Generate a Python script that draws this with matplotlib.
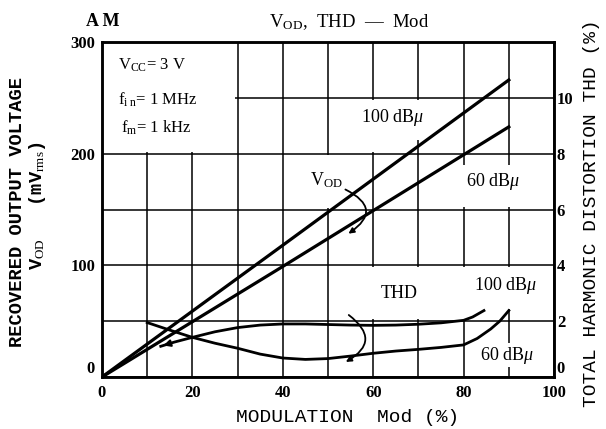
import matplotlib.pyplot as plt
from matplotlib.patches import Rectangle, FancyArrowPatch

plt.rcParams['font.family'] = 'Liberation Serif'
plt.rcParams['mathtext.fontset'] = 'custom'
plt.rcParams['mathtext.rm'] = 'Liberation Serif'
plt.rcParams['mathtext.it'] = 'Liberation Serif:italic'
plt.rcParams['mathtext.bf'] = 'Liberation Serif:bold'

# recovered output voltage (mVrms) vs modulation (%)
mod = [0, 40, 90]
vod_100 = [0, 118, 266]
vod_60 = [0, 99, 224]

# total harmonic distortion (%) vs modulation (%)
thd100_mod = [13, 16, 20, 25, 30, 35, 40, 45, 50, 55, 60, 65, 70, 75, 80, 82, 84.5]
thd100 = [1.10, 1.25, 1.42, 1.62, 1.77, 1.86, 1.90, 1.90, 1.88, 1.86, 1.85, 1.86, 1.89, 1.94, 2.03, 2.15, 2.38]
thd60_mod = [10, 15, 20, 25, 30, 35, 40, 45, 50, 55, 60, 65, 70, 75, 80, 83, 86, 88, 90]
thd60 = [1.95, 1.68, 1.42, 1.21, 1.03, 0.82, 0.68, 0.63, 0.66, 0.75, 0.85, 0.93, 0.99, 1.06, 1.15, 1.38, 1.72, 2.0, 2.38]

x_ticks = [0, 20, 40, 60, 80, 100]
vod_ticks = [0, 100, 200, 300]
thd_ticks = [0, 2, 4, 6, 8, 10]

fig = plt.figure(figsize=(6.06, 4.29), dpi=100)
ax = fig.add_axes([0.1683, 0.1212, 0.7459, 0.7809])
ax2 = ax.twinx()

ax.set_xlim(0, 100)
ax.set_ylim(0, 300)
ax2.set_ylim(0, 12)

ax.set_xticks(x_ticks)
ax.set_xticks(range(10, 100, 20), minor=True)
ax.set_yticks(vod_ticks)
ax.set_yticks([50, 150, 250], minor=True)
ax2.set_yticks(thd_ticks)
ax.set_axisbelow(True)
ax.grid(True, which='both', color='black', lw=1.1)
ax.tick_params(which='both', length=0, labelsize=12, pad=5)
ax.tick_params(axis='x', pad=6)
ax2.tick_params(length=0, labelsize=12, pad=2)
for lab in ax.get_xticklabels() + ax.get_yticklabels() + ax2.get_yticklabels():
    lab.set_fontweight('bold')
ax.get_yticklabels()[0].set_va('bottom')
ax2.get_yticklabels()[0].set_va('bottom')
for a in (ax, ax2):
    for s in a.spines.values():
        s.set_linewidth(1.8)

# blank cells of the printed grid (legend box and label areas)
blanks = [(0, 201.6, 29.5, 98.0), (59, 201.6, 2, 46.8), (55, 212, 17.3, 36.4),
          (45, 151.6, 10, 46.8), (78, 152, 21.6, 38), (55, 51.6, 32, 46.8),
          (87, 60.5, 12.6, 37.9)]
for x0, y0, w, h in blanks:
    ax.add_patch(Rectangle((x0, y0), w, h, facecolor='white', edgecolor='none', zorder=1))

ax.plot(mod, vod_100, color='black', lw=2.3)
ax.plot(mod, vod_60, color='black', lw=2.3)
ax2.plot(thd100_mod, thd100, color='black', lw=2.0)
ax2.plot(thd60_mod, thd60, color='black', lw=2.0)
ax2.annotate('', xy=(thd100_mod[0], thd100[0]), xytext=(thd100_mod[1], thd100[1]),
             arrowprops=dict(arrowstyle='-|>', color='black', lw=1.5, mutation_scale=10))

# conditions box
ax.text(3.5, 279, r'V$_{\rm CC}$= 3 V', fontsize=12, va='center')
ax.text(3.5, 248, r'f$_{\rm i\ n}$= 1 MHz', fontsize=12, va='center')
ax.text(4.3, 223, r'f$_{\rm m}$= 1 kHz', fontsize=12, va='center')

# curve labels
ax.text(64.3, 232, r'100 dB$\mu$', fontsize=13, ha='center', va='center')
ax.text(86.6, 175.5, r'60 dB$\mu$', fontsize=13, ha='center', va='center')
ax.text(49.6, 176, r'V$_{\rm OD}$', fontsize=13, ha='center', va='center')
ax.text(65.8, 75, 'THD', fontsize=13, ha='center', va='center')
ax.text(89.2, 81.5, r'100 dB$\mu$', fontsize=13, ha='center', va='center')
ax.text(89.6, 19.7, r'60 dB$\mu$', fontsize=13, ha='center', va='center', zorder=3,
        bbox=dict(facecolor='white', edgecolor='none', pad=1))

ax.add_patch(FancyArrowPatch((53.3, 169), (54, 127), connectionstyle='arc3,rad=-0.9',
                             arrowstyle='-|>', mutation_scale=8, lw=1.3, color='black', zorder=3))
ax.add_patch(FancyArrowPatch((54.1, 57), (53.4, 12.3), connectionstyle='arc3,rad=-0.8',
                             arrowstyle='-|>', mutation_scale=8, lw=1.3, color='black', zorder=3))

# titles and axis labels
fig.text(103 / 606, 1 - 22 / 429, 'A M', fontsize=13, fontweight='bold', ha='center', va='center')
fig.text(349 / 606, 1 - 22 / 429, r'V$_{\rm OD}$,  THD  —  Mod', fontsize=13.5, ha='center', va='center')
fig.text(348 / 606, 1 - 418 / 429, 'MODULATION  Mod (%)', family='Liberation Mono',
         fontsize=14, ha='center', va='center')
fig.text(18 / 606, 1 - 212 / 429, 'RECOVERED OUTPUT VOLTAGE', family='Liberation Mono',
         fontweight='bold', fontsize=13.5, rotation=90, ha='center', va='center')
fig.text(38 / 606, 1 - 206 / 429, r'V$_{\rm OD}$   (mV$_{\rm rms}$)', family='Liberation Mono',
         fontweight='bold', fontsize=13.5, rotation=90, ha='center', va='center')
fig.text(592 / 606, 1 - 213 / 429, 'TOTAL HARMONIC DISTORTION THD (%)', family='Liberation Mono',
         fontsize=14, rotation=90, ha='center', va='center')

fig.savefig('out.png', dpi=100)
